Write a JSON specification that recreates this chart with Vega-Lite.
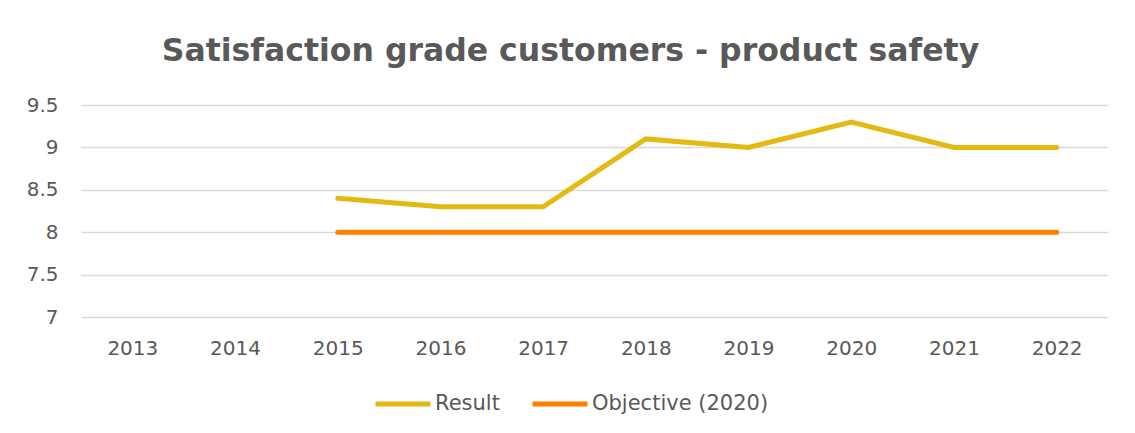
{
  "$schema": "https://vega.github.io/schema/vega-lite/v6.json",
  "autosize": {"type": "none"},
  "width": 1027,
  "height": 212,
  "padding": {"left": 81, "top": 105, "right": 27, "bottom": 116},
  "background": "white",
  "title": {
    "text": "Satisfaction grade customers - product safety",
    "anchor": "middle",
    "dx": -24,
    "offset": 28,
    "fontSize": 31.5,
    "fontWeight": "bold",
    "font": "DejaVu Sans",
    "color": "#595959"
  },
  "data": {
    "values": [
      {"year": "2015", "series": "Result", "value": 8.4},
      {"year": "2016", "series": "Result", "value": 8.3},
      {"year": "2017", "series": "Result", "value": 8.3},
      {"year": "2018", "series": "Result", "value": 9.1},
      {"year": "2019", "series": "Result", "value": 9.0},
      {"year": "2020", "series": "Result", "value": 9.3},
      {"year": "2021", "series": "Result", "value": 9.0},
      {"year": "2022", "series": "Result", "value": 9.0},
      {"year": "2015", "series": "Objective (2020)", "value": 8},
      {"year": "2016", "series": "Objective (2020)", "value": 8},
      {"year": "2017", "series": "Objective (2020)", "value": 8},
      {"year": "2018", "series": "Objective (2020)", "value": 8},
      {"year": "2019", "series": "Objective (2020)", "value": 8},
      {"year": "2020", "series": "Objective (2020)", "value": 8},
      {"year": "2021", "series": "Objective (2020)", "value": 8},
      {"year": "2022", "series": "Objective (2020)", "value": 8}
    ]
  },
  "mark": {"type": "line", "strokeWidth": 5, "strokeCap": "round", "strokeJoin": "miter"},
  "encoding": {
    "x": {
      "field": "year",
      "type": "ordinal",
      "scale": {"type": "point", "domain": ["2013","2014","2015","2016","2017","2018","2019","2020","2021","2022"], "padding": 0.5},
      "axis": {"title": null, "labelAngle": 0, "ticks": false, "domain": false, "grid": false, "labelPadding": 21, "labelFontSize": 20, "labelFont": "DejaVu Sans", "labelColor": "#595959"}
    },
    "y": {
      "field": "value",
      "type": "quantitative",
      "scale": {"domain": [7, 9.5], "nice": false, "zero": false},
      "axis": {"title": null, "values": [7, 7.5, 8, 8.5, 9, 9.5], "format": "~g", "ticks": false, "domain": false, "grid": true, "gridColor": "#D9D9D9", "gridWidth": 1.5, "labelPadding": 23, "labelFontSize": 20, "labelFont": "DejaVu Sans", "labelColor": "#595959"}
    },
    "color": {
      "field": "series",
      "type": "nominal",
      "scale": {"domain": ["Result", "Objective (2020)"], "range": ["#E2BA12", "#FF7F00"]},
      "legend": {
        "title": null,
        "orient": "none",
        "legendX": 292,
        "legendY": 269,
        "direction": "horizontal",
        "symbolType": "stroke",
        "symbolSize": 3025,
        "symbolStrokeWidth": 5,
        "labelFontSize": 21,
        "labelOffset": 2,
        "labelLimit": 0,
        "labelFont": "DejaVu Sans",
        "labelColor": "#595959",
        "columnPadding": 22
      }
    }
  },
  "config": {"view": {"stroke": null}}
}
